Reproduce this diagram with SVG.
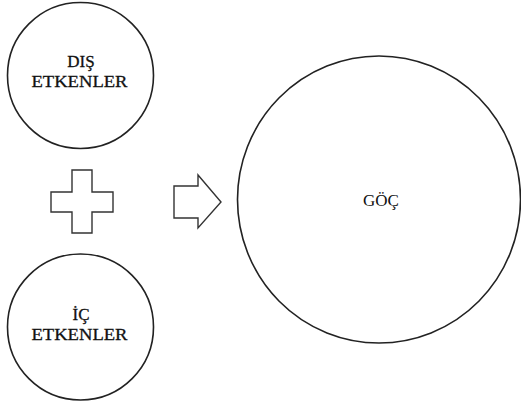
<svg xmlns="http://www.w3.org/2000/svg" width="521" height="404" viewBox="0 0 521 404">
<style>
.n{fill:#fff;stroke:#222;stroke-width:1.6}
.s{fill:#fff;stroke:#333;stroke-width:1.4;stroke-linejoin:miter}
.t{font-family:"Liberation Serif","Times New Roman",serif;font-size:17px;fill:#111;text-anchor:middle;stroke:#111;stroke-width:0.3}
.g{font-family:"Liberation Serif","Times New Roman",serif;font-size:17px;fill:#111;text-anchor:middle}
</style>
<rect width="521" height="404" fill="#fff"/>
<g id="dis">
<circle class="n" cx="80.5" cy="75.5" r="73"/>
<text class="t" x="81" y="67">DIŞ</text>
<text class="t" x="79.5" y="87" textLength="96" lengthAdjust="spacingAndGlyphs">ETKENLER</text>
</g>
<g id="plus">
<polygon class="s" points="72,170 92,170 92,192 113,192 113,212 92,212 92,233 72,233 72,212 51,212 51,192 72,192"/>
</g>
<g id="ic">
<circle class="n" cx="80.5" cy="327" r="73"/>
<text class="t" x="81" y="320">İÇ</text>
<text class="t" x="79.5" y="340" textLength="96" lengthAdjust="spacingAndGlyphs">ETKENLER</text>
</g>
<g id="connectors">
<polygon class="s" points="174,186 198,186 198,175 221,202 198,228 198,218 174,218"/>
</g>
<g id="goc">
<ellipse class="n" cx="379" cy="199.5" rx="141.5" ry="143.5"/>
<text class="g" x="381" y="206">GÖÇ</text>
</g>
</svg>
